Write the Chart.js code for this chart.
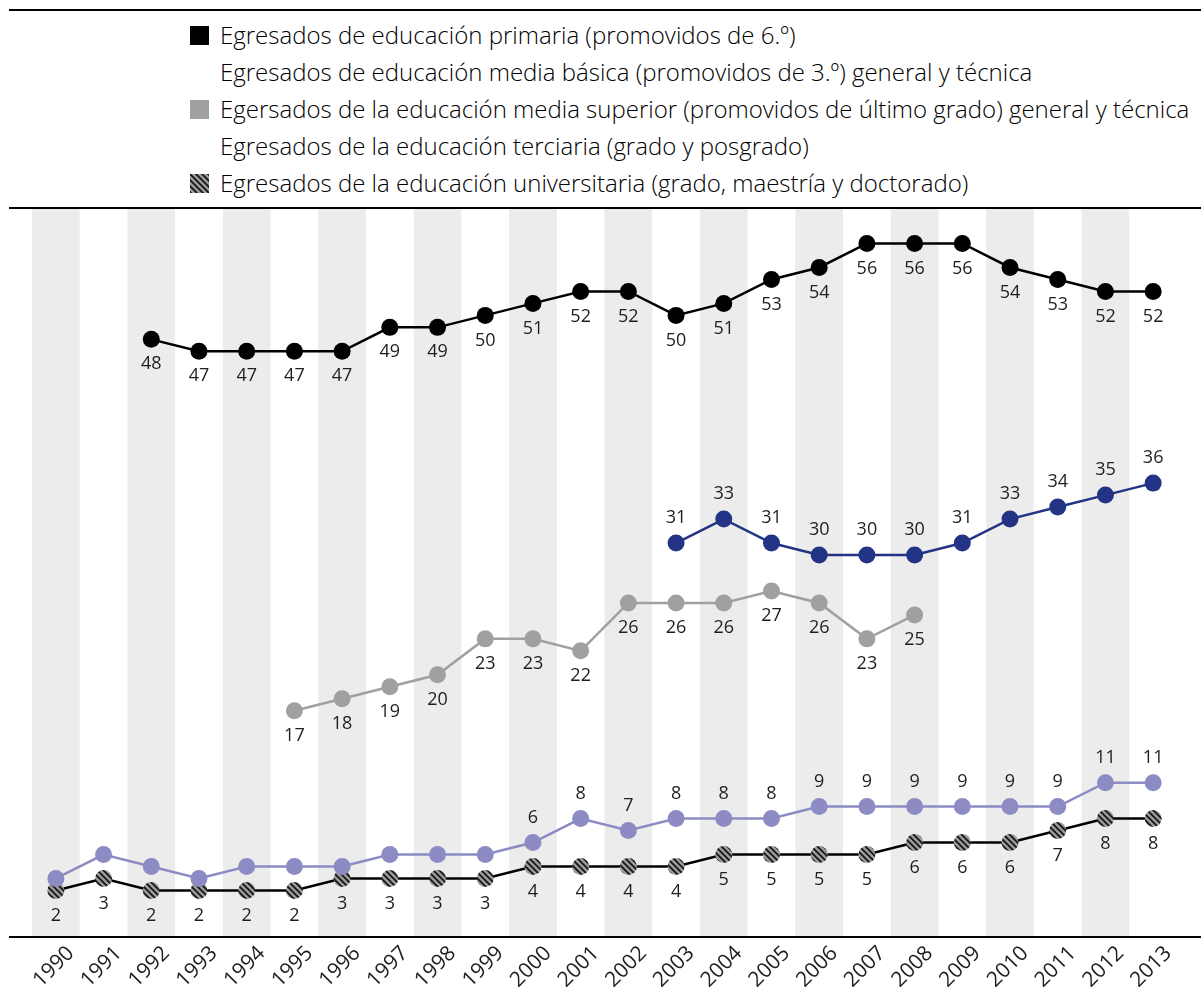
<!DOCTYPE html>
<html lang="es">
<head>
<meta charset="utf-8">
<title>Egresados por nivel educativo 1990-2013</title>
<script src="https://cdn.jsdelivr.net/npm/chart.js@4/dist/chart.umd.min.js"></script>
<style>
  html, body { margin: 0; padding: 0; background: #fff; }
  body { width: 1201px; height: 988px; position: relative; overflow: hidden; font-family: "Open Sans", "Lato", sans-serif; color: #000; }
  #legend { position: absolute; left: 9px; top: 9px; width: 1192px; height: 196px; border-top: 2px solid #000; border-bottom: 2px solid #000; }
  .item { position: absolute; left: 211px; font-size: 24px; font-weight: 300; line-height: 28px; white-space: nowrap; }
  .box { position: absolute; left: -30px; top: 5px; width: 19px; height: 19px; }
  #wrap { position: absolute; left: 0; top: 209px; width: 1201px; height: 779px; }
</style>
</head>
<body>
<div id="legend"></div>
<div id="wrap"><canvas id="chart"></canvas></div>
<script>
const years = ["1990", "1991", "1992", "1993", "1994", "1995", "1996", "1997", "1998", "1999", "2000", "2001",
  "2002", "2003", "2004", "2005", "2006", "2007", "2008", "2009", "2010", "2011", "2012", "2013"];

const primaria = [null, null, 48, 47, 47, 47, 47, 49, 49, 50, 51, 52, 52, 50, 51, 53, 54, 56, 56, 56, 54, 53, 52, 52];
const mediaBasica = [null, null, null, null, null, null, null, null, null, null, null, null, null,
  31, 33, 31, 30, 30, 30, 31, 33, 34, 35, 36];
const mediaSuperior = [null, null, null, null, null, 17, 18, 19, 20, 23, 23, 22, 26, 26, 26, 27, 26, 23, 25,
  null, null, null, null, null];
const terciaria = [3, 5, 4, 3, 4, 4, 4, 5, 5, 5, 6, 8, 7, 8, 8, 8, 9, 9, 9, 9, 9, 9, 11, 11];
const universitaria = [2, 3, 2, 2, 2, 2, 3, 3, 3, 3, 4, 4, 4, 4, 5, 5, 5, 5, 6, 6, 6, 7, 8, 8];

const legendItems = [
  { text: "Egresados de educación primaria (promovidos de 6.º)", box: "#000" },
  { text: "Egresados de educación media básica (promovidos de 3.º) general y técnica", box: null },
  { text: "Egersados de la educación media superior (promovidos de último grado) general y técnica", box: "#a0a0a0" },
  { text: "Egresados de la educación terciaria (grado y posgrado)", box: null },
  { text: "Egresados de la educación universitaria (grado, maestría y doctorado)", box: "hatch" }
];

// gray fill with black diagonal stripes
function makeHatch(size) {
  const c = document.createElement("canvas");
  c.width = size; c.height = size;
  const g = c.getContext("2d");
  g.fillStyle = "#9a9a9a";
  g.fillRect(0, 0, size, size);
  g.strokeStyle = "#111";
  g.lineWidth = 1.6;
  g.beginPath();
  g.moveTo(-1, -1); g.lineTo(size + 1, size + 1);
  g.moveTo(-1, size - 1); g.lineTo(1, size + 1);
  g.moveTo(size - 1, -1); g.lineTo(size + 1, 1);
  g.stroke();
  return c;
}

const legendEl = document.getElementById("legend");
legendItems.forEach((it, i) => {
  const d = document.createElement("div");
  d.className = "item";
  d.style.top = (10 + i * 37) + "px";
  if (it.box) {
    const b = document.createElement("span");
    b.className = "box";
    if (it.box === "hatch") {
      b.style.backgroundImage = "url(" + makeHatch(6).toDataURL() + ")";
    } else {
      b.style.background = it.box;
    }
    d.appendChild(b);
  }
  d.appendChild(document.createTextNode(it.text));
  legendEl.appendChild(d);
});

const hatch = document.createElement("canvas").getContext("2d").createPattern(makeHatch(6), "repeat");

// alternating column bands and the base line
const bandsPlugin = {
  id: "bands",
  beforeDatasetsDraw(chart) {
    const { ctx, chartArea, scales } = chart;
    const x = scales.x;
    const w = x.width / years.length;
    ctx.save();
    ctx.fillStyle = "#ececec";
    years.forEach((y, i) => {
      if (i % 2 === 0) {
        const px = x.getPixelForValue(i);
        ctx.fillRect(px - w / 2, 0, w, chartArea.bottom);
      }
    });
    ctx.strokeStyle = "#000";
    ctx.lineWidth = 2;
    ctx.beginPath();
    ctx.moveTo(9, chartArea.bottom + 1);
    ctx.lineTo(chart.width, chartArea.bottom + 1);
    ctx.stroke();
    ctx.restore();
  }
};

// value labels above or below each point
const valueLabels = {
  id: "valueLabels",
  afterDatasetsDraw(chart) {
    const { ctx } = chart;
    ctx.save();
    ctx.font = "18px 'Open Sans', Lato, sans-serif";
    ctx.fillStyle = "#1e1e1e";
    ctx.textAlign = "center";
    ctx.textBaseline = "middle";
    chart.data.datasets.forEach((ds, di) => {
      const meta = chart.getDatasetMeta(di);
      meta.data.forEach((pt, i) => {
        const v = ds.data[i];
        if (v === null || i < (ds.labelFrom || 0)) return;
        const dy = ds.labelPos === "above" ? -25 : 25;
        ctx.fillText(String(v), pt.x, pt.y + dy);
      });
    });
    ctx.restore();
  }
};

function series(data, color, fill, labelPos, extra) {
  return Object.assign({
    data,
    borderColor: color,
    backgroundColor: fill,
    pointBackgroundColor: fill,
    pointBorderWidth: 0,
    pointRadius: 8.5,
    pointHoverRadius: 8.5,
    borderWidth: 2.5,
    tension: 0,
    spanGaps: false,
    labelPos
  }, extra || {});
}

new Chart(document.getElementById("chart"), {
  type: "line",
  data: {
    labels: years,
    datasets: [
      series(terciaria, "#8c8bc4", "#8c8bc4", "above", { labelFrom: 10 }),
      series(universitaria, "#000", hatch, "below"),
      series(primaria, "#000", "#000", "below"),
      series(mediaBasica, "#233385", "#233385", "above"),
      series(mediaSuperior, "#a0a0a0", "#a0a0a0", "below")
    ]
  },
  options: {
    responsive: true,
    maintainAspectRatio: false,
    animation: false,
    layout: { padding: { left: 32, right: 24, top: 0, bottom: 0 } },
    plugins: { legend: { display: false }, tooltip: { enabled: false } },
    scales: {
      x: {
        offset: true,
        grid: { display: false, drawTicks: false },
        border: { display: false },
        afterFit(scale) { scale.height = 52; },
        ticks: {
          minRotation: 45,
          maxRotation: 45,
          padding: 5,
          labelOffset: 15,
          color: "#1e1e1e",
          font: { family: "'Open Sans', Lato, sans-serif", size: 21, weight: 400 }
        }
      },
      y: {
        display: false,
        min: -1.8,
        max: 58.17
      }
    }
  },
  plugins: [bandsPlugin, valueLabels]
});
</script>
</body>
</html>
